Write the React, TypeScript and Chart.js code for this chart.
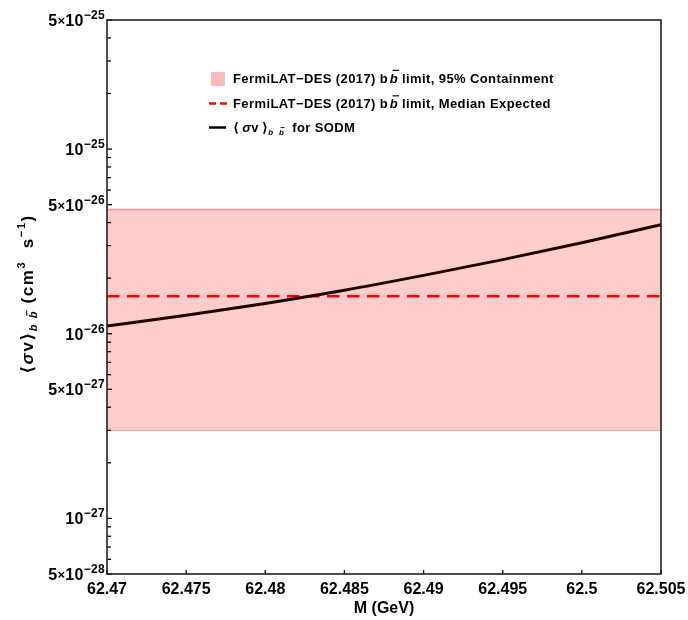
import { useEffect, useRef } from 'react';
import { Chart, registerables } from 'chart.js';

Chart.register(...registerables);

// ---- data ----
const massGeV = [62.47, 62.475, 62.48, 62.485, 62.49, 62.495, 62.5, 62.505];
const sigmaVSODM = [1.1e-26, 1.26e-26, 1.46e-26, 1.72e-26, 2.07e-26, 2.52e-26, 3.11e-26, 3.9e-26];
const limitMass = [62.47, 62.505];
const band95Lower = [3.0e-27, 3.0e-27];
const band95Upper = [4.7e-26, 4.7e-26];
const medianExpected = [1.595e-26, 1.595e-26];

const xTickValues = [62.47, 62.475, 62.48, 62.485, 62.49, 62.495, 62.5, 62.505];
const xTickLabels = ['62.47', '62.475', '62.48', '62.485', '62.49', '62.495', '62.5', '62.505'];
const yMajorTicks = [5e-28, 1e-27, 5e-27, 1e-26, 5e-26, 1e-25, 5e-25];
const yMajorMantissa = ['5', '', '5', '', '5', '', '5'];
const yMajorExponent = ['−28', '−27', '−27', '−26', '−26', '−25', '−25'];
const yMinorMantissas = [2, 3, 4, 6, 7, 8, 9];
const yDecades = [-28, -27, -26, -25];

const Y_MIN = 5e-28;
const Y_MAX = 5e-25;

const FAM = '"Liberation Sans", Arial, Helvetica, "DejaVu Sans", sans-serif';

type Seg = { t: string; size: number; italic?: boolean; dy?: number; over?: boolean };

function segFont(s: Seg) {
  return `${s.italic ? 'italic ' : ''}bold ${s.size}px ${FAM}`;
}
function measureRich(ctx: CanvasRenderingContext2D, segs: Seg[]) {
  let w = 0;
  for (const s of segs) {
    ctx.font = segFont(s);
    w += ctx.measureText(s.t).width;
  }
  return w;
}
function drawRich(
  ctx: CanvasRenderingContext2D,
  segs: Seg[],
  x: number,
  y: number,
  align: 'left' | 'center' | 'right',
  spacing = 0
) {
  (ctx as any).letterSpacing = `${spacing}px`;
  const total = measureRich(ctx, segs);
  let cx = align === 'center' ? x - total / 2 : align === 'right' ? x - total : x;
  ctx.textAlign = 'left';
  ctx.textBaseline = 'alphabetic';
  for (const s of segs) {
    ctx.font = segFont(s);
    const w = ctx.measureText(s.t).width;
    const by = y + (s.dy || 0);
    ctx.fillText(s.t, cx, by);
    if (s.over) {
      ctx.fillRect(cx + s.size * 0.22, by - s.size * 0.98, s.size * 0.5, Math.max(1, s.size * 0.09));
    }
    cx += w;
  }
  (ctx as any).letterSpacing = '0px';
}

function yTickValues() {
  const vals: number[] = [...yMajorTicks];
  for (const e of yDecades) {
    for (const m of yMinorMantissas) {
      const v = m * Math.pow(10, e);
      if (v > Y_MIN * 1.0001 && v < Y_MAX * 0.9999) vals.push(v);
    }
  }
  return vals.sort((a, b) => a - b);
}

function majorIndex(v: number) {
  for (let i = 0; i < yMajorTicks.length; i++) {
    if (Math.abs(v - yMajorTicks[i]) / yMajorTicks[i] < 1e-6) return i;
  }
  return -1;
}

const decorPlugin = {
  id: 'decor',
  afterDatasetsDraw(chart: any) {
    const { ctx, chartArea: a, scales } = chart;
    const xs = scales.x;
    const ys = scales.y;
    ctx.save();
    ctx.strokeStyle = '#000';
    ctx.lineWidth = 1.3;
    for (const v of yTickValues()) {
      const py = ys.getPixelForValue(v);
      const len = majorIndex(v) >= 0 ? 5 : 4;
      ctx.beginPath();
      ctx.moveTo(a.left, py);
      ctx.lineTo(a.left + len, py);
      ctx.stroke();
    }
    for (const v of xTickValues) {
      const px = xs.getPixelForValue(v);
      ctx.beginPath();
      ctx.moveTo(px, a.bottom);
      ctx.lineTo(px, a.bottom - 4);
      ctx.stroke();
    }
    ctx.strokeStyle = '#222';
    ctx.lineWidth = 1.6;
    ctx.strokeRect(a.left, a.top, a.right - a.left, a.bottom - a.top);
    ctx.restore();
  },
  afterDraw(chart: any) {
    const { ctx, chartArea: a, scales } = chart;
    const ys = scales.y;

    // y tick labels with superscript exponents
    ctx.save();
    ctx.fillStyle = '#000';
    yMajorTicks.forEach((v, i) => {
      const py = ys.getPixelForValue(v);
      const segs: Seg[] = [];
      if (yMajorMantissa[i]) {
        segs.push({ t: yMajorMantissa[i], size: 16 });
        segs.push({ t: '×', size: 13, dy: -1 });
      }
      segs.push({ t: '10', size: 16 });
      segs.push({ t: yMajorExponent[i], size: 12, dy: -7 });
      drawRich(ctx, segs, a.left - 2, py + 6, 'right', 0.3);
    });
    ctx.restore();

    // y axis title (rotated)
    ctx.save();
    ctx.fillStyle = '#000';
    ctx.translate(33, 294);
    ctx.rotate(-Math.PI / 2);
    drawRich(
      ctx,
      [
        { t: '⟨', size: 17 },
        { t: 'σ', size: 17, italic: true },
        { t: 'v', size: 17 },
        { t: '⟩', size: 17 },
        { t: 'b ', size: 11, italic: true, dy: 4 },
        { t: 'b', size: 11, italic: true, dy: 4, over: true },
        { t: ' (cm', size: 17 },
        { t: '3', size: 11, dy: -8 },
        { t: '  s', size: 17 },
        { t: '−1', size: 11, dy: -8 },
        { t: ')', size: 17 },
      ],
      0,
      0,
      'center',
      1.6
    );
    ctx.restore();

    // legend
    ctx.save();
    const lx = 209;
    const tx = 233;
    ctx.fillStyle = 'rgb(255,185,185)';
    ctx.fillRect(lx + 2, 72, 14, 14);
    ctx.fillStyle = '#000';
    drawRich(
      ctx,
      [
        { t: 'FermiLAT−DES (2017) b\u200A', size: 13 },
        { t: 'b', size: 13, italic: true, over: true },
        { t: ' limit, 95% Containment', size: 13 },
      ],
      tx,
      82.5,
      'left',
      0.4
    );
    ctx.strokeStyle = '#ff0000';
    ctx.lineWidth = 2.5;
    ctx.beginPath();
    ctx.moveTo(lx, 103.5);
    ctx.lineTo(lx + 7, 103.5);
    ctx.moveTo(lx + 11, 103.5);
    ctx.lineTo(lx + 18, 103.5);
    ctx.stroke();
    drawRich(
      ctx,
      [
        { t: 'FermiLAT−DES (2017) b\u200A', size: 13 },
        { t: 'b', size: 13, italic: true, over: true },
        { t: ' limit, Median Expected', size: 13 },
      ],
      tx,
      108,
      'left',
      0.4
    );
    ctx.strokeStyle = '#000';
    ctx.beginPath();
    ctx.moveTo(lx, 127.5);
    ctx.lineTo(lx + 17, 127.5);
    ctx.stroke();
    drawRich(
      ctx,
      [
        { t: '⟨\u2009', size: 13 },
        { t: 'σ', size: 13, italic: true },
        { t: 'v', size: 13 },
        { t: '\u2009⟩', size: 13 },
        { t: 'b  ', size: 8, italic: true, dy: 3 },
        { t: 'b', size: 8, italic: true, dy: 3, over: true },
        { t: '  for SODM', size: 13 },
      ],
      tx,
      132,
      'left',
      0.4
    );
    ctx.restore();
  },
};

export default function App() {
  const canvasRef = useRef<HTMLCanvasElement | null>(null);

  useEffect(() => {
    const canvas = canvasRef.current;
    if (!canvas) return;
    const chart = new Chart(canvas, {
      type: 'line',
      data: {
        datasets: [
          {
            label: '⟨σv⟩ for SODM',
            data: massGeV.map((m, i) => ({ x: m, y: sigmaVSODM[i] })),
            borderColor: 'rgb(30,0,0)',
            borderWidth: 3,
            pointRadius: 0,
            cubicInterpolationMode: 'monotone',
            fill: false,
            order: 0,
          },
          {
            label: 'Median Expected',
            data: limitMass.map((m, i) => ({ x: m, y: medianExpected[i] })),
            borderColor: '#ff0000',
            borderWidth: 2.6,
            borderDash: [12.5, 7.5],
            pointRadius: 0,
            fill: false,
            order: 1,
          },
          {
            label: '95% upper',
            data: limitMass.map((m, i) => ({ x: m, y: band95Upper[i] })),
            borderColor: 'rgb(255,150,150)',
            borderWidth: 1.6,
            backgroundColor: 'rgb(255,204,204)',
            pointRadius: 0,
            fill: '+1',
            order: 2,
          },
          {
            label: '95% lower',
            data: limitMass.map((m, i) => ({ x: m, y: band95Lower[i] })),
            borderColor: 'rgb(255,150,150)',
            borderWidth: 1.6,
            pointRadius: 0,
            fill: false,
            order: 3,
          },
        ],
      },
      options: {
        responsive: false,
        animation: false,
        devicePixelRatio: 1,
        layout: { padding: { left: 0, right: 27, top: 20, bottom: 0 } },
        plugins: {
          legend: { display: false },
          tooltip: { enabled: false },
        },
        scales: {
          x: {
            type: 'linear',
            min: 62.47,
            max: 62.505,
            afterBuildTicks: (s: any) => {
              s.ticks = xTickValues.map((v) => ({ value: v }));
            },
            afterFit: (s: any) => {
              s.height = 46;
              s.paddingLeft = 0;
              s.paddingRight = 0;
            },
            grid: { display: false, drawTicks: false },
            border: { display: false },
            ticks: {
              autoSkip: false,
              maxRotation: 0,
              padding: 6,
              color: '#000',
              font: { family: FAM, size: 16, weight: 'bold' },
              callback: (_v: any, i: number) => xTickLabels[i],
            },
            title: {
              display: true,
              text: 'M (GeV)',
              color: '#000',
              font: { family: FAM, size: 16, weight: 'bold' },
              padding: { top: 0, bottom: 2 },
            },
          },
          y: {
            type: 'logarithmic',
            min: Y_MIN,
            max: Y_MAX,
            afterBuildTicks: (s: any) => {
              s.ticks = yTickValues().map((v) => ({ value: v }));
            },
            afterFit: (s: any) => {
              s.width = 107;
              s.paddingTop = 0;
              s.paddingBottom = 0;
            },
            grid: { display: false, drawTicks: false },
            border: { display: false },
            ticks: { display: false },
          },
        },
      } as any,
      plugins: [decorPlugin],
    });
    return () => chart.destroy();
  }, []);

  return (
    <div style={{ position: 'absolute', left: 0, top: 0, width: 688, height: 620, background: '#fff' }}>
      <canvas ref={canvasRef} width={688} height={620} style={{ display: 'block' }} />
    </div>
  );
}
